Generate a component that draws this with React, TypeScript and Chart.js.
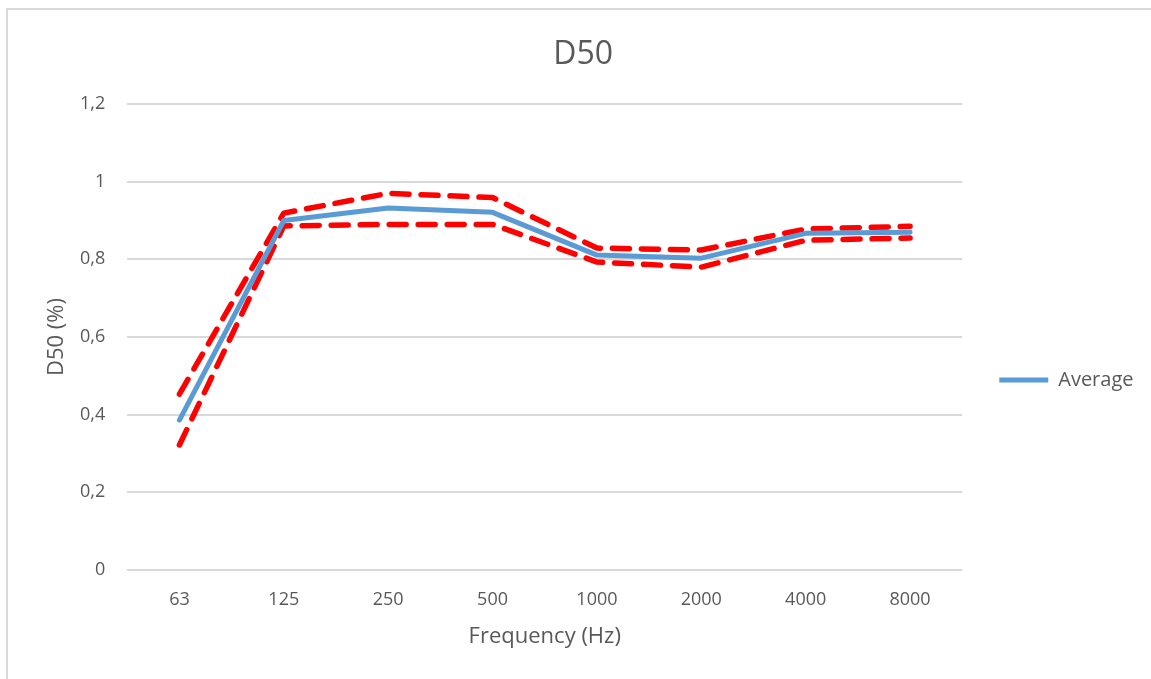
import React, { useEffect, useRef } from "react";
import { Chart, registerables } from "chart.js";

Chart.register(...registerables);

const categories = ["63", "125", "250", "500", "1000", "2000", "4000", "8000"];
const averageValues = [0.386, 0.9, 0.932, 0.921, 0.811, 0.803, 0.867, 0.87];
const upperValues = [0.453, 0.919, 0.97, 0.959, 0.829, 0.824, 0.878, 0.885];
const lowerValues = [0.322, 0.886, 0.89, 0.89, 0.793, 0.78, 0.849, 0.855];

const FONT = "'Open Sans', sans-serif";
const TEXT = "#595959";

export default function App() {
  const ref = useRef<HTMLCanvasElement | null>(null);

  useEffect(() => {
    if (!ref.current) return;
    const dashed = {
      borderColor: "#ff0000",
      borderWidth: 5.5,
      borderDash: [17, 12],
      borderCapStyle: "round" as const,
      borderJoinStyle: "round" as const,
      pointRadius: 0,
      tension: 0,
      fill: false,
    };
    const chart = new Chart(ref.current, {
      type: "line",
      data: {
        labels: categories,
        datasets: [
          {
            label: "Average",
            data: averageValues,
            borderColor: "#5b9bd5",
            backgroundColor: "#5b9bd5",
            borderWidth: 5,
            borderCapStyle: "round",
            borderJoinStyle: "round",
            pointRadius: 0,
            tension: 0,
            fill: false,
          },
          { label: "Upper", data: upperValues, ...dashed },
          { label: "Lower", data: lowerValues, ...dashed },
        ],
      },
      options: {
        animation: false,
        responsive: false,
        maintainAspectRatio: false,
        layout: { padding: { left: 15, right: 7.5, top: 0, bottom: 0 } },
        plugins: {
          title: {
            display: true,
            text: "D50",
            color: TEXT,
            font: { family: FONT, size: 32, weight: "normal" },
            padding: { top: 25.3, bottom: 30.3 },
          },
          legend: {
            position: "right",
            title: {
              display: true,
              text: "",
              font: { family: FONT, size: 10 },
              padding: { top: 59, bottom: 0 },
            },
            labels: {
              filter: (item) => item.text === "Average",
              usePointStyle: true,
              pointStyle: "line",
              pointStyleWidth: 49,
              padding: 37,
              color: TEXT,
              font: { family: FONT, size: 20 },
            },
          },
          tooltip: { enabled: false },
        },
        scales: {
          x: {
            offset: true,
            grid: { display: false, drawTicks: false },
            border: { display: false },
            ticks: {
              color: TEXT,
              font: { family: FONT, size: 18 },
              padding: 19,
              maxRotation: 0,
            },
            title: {
              display: true,
              text: "Frequency (Hz)",
              color: TEXT,
              font: { family: FONT, size: 22 },
              padding: { top: -5.8, bottom: 28.8 },
            },
          },
          y: {
            min: 0,
            max: 1.2,
            grid: { color: "#d9d9d9", lineWidth: 2, drawTicks: false },
            border: { display: false },
            ticks: {
              stepSize: 0.2,
              color: TEXT,
              font: { family: FONT, size: 18 },
              padding: 22,
              callback: (v) => {
                const n = Math.round(Number(v) * 10) / 10;
                return String(n).replace(".", ",");
              },
            },
            title: {
              display: true,
              text: "D50 (%)",
              color: TEXT,
              font: { family: FONT, size: 22 },
              padding: { top: 20.8, bottom: -12.2 },
            },
          },
        },
      },
    });
    return () => chart.destroy();
  }, []);

  return (
    <div
      style={{
        position: "fixed",
        left: 6,
        top: 8,
        width: 1145,
        height: 671,
        borderLeft: "2px solid #d9d9d9",
        borderTop: "2px solid #d9d9d9",
        background: "#fff",
      }}
    >
      <canvas ref={ref} width={1143} height={669} style={{ display: "block" }} />
    </div>
  );
}
